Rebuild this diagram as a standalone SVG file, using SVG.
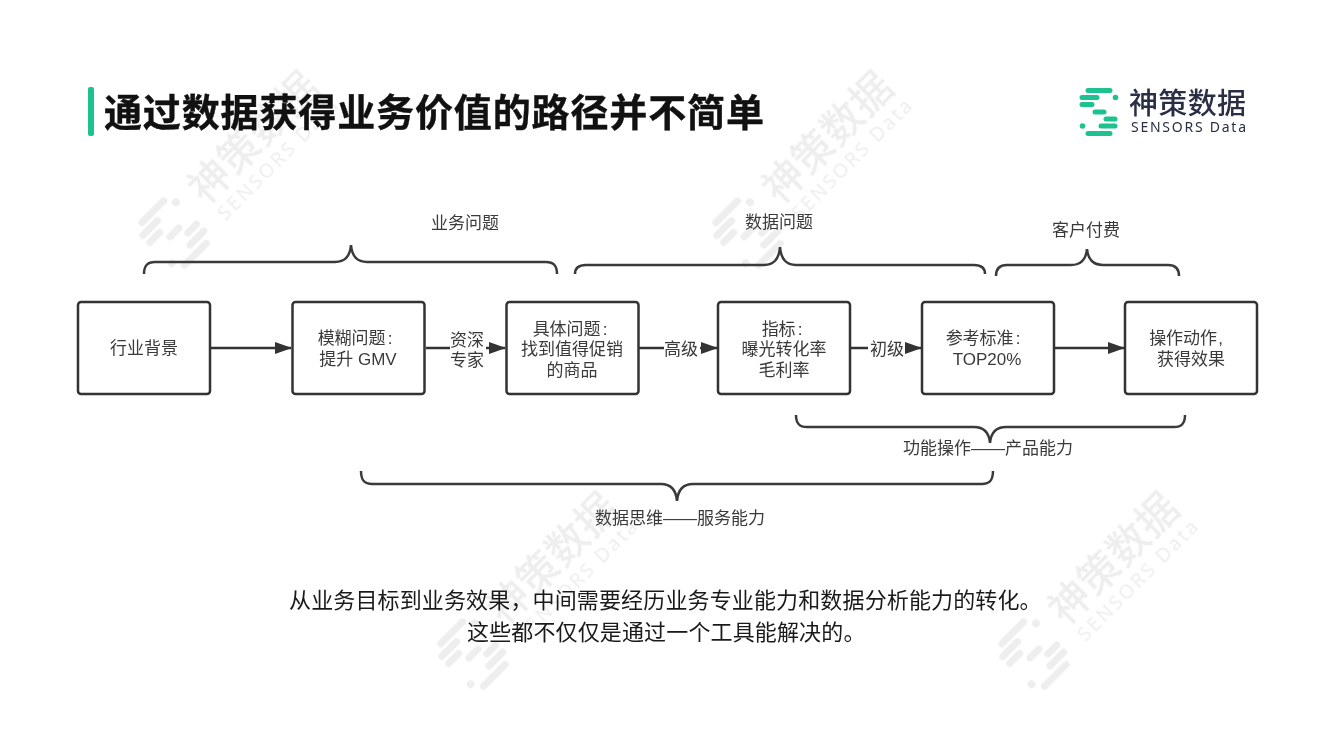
<svg xmlns="http://www.w3.org/2000/svg" xmlns:xlink="http://www.w3.org/1999/xlink" width="1333" height="750" viewBox="0 0 1333 750">
<style>
text{font-family:"Liberation Sans","Noto Sans CJK SC",sans-serif}
.t{font-size:17px;fill:#3a3a3a;text-anchor:middle}
.box{fill:#fff;stroke:#333;stroke-width:2.5}
.ln{fill:none;stroke:#333;stroke-width:2.5}
.br{fill:none;stroke:#3a3a3a;stroke-width:2.5}
.bar{stroke-linecap:round;stroke-width:5;fill:none}
.body{font-size:22px;fill:#1a1a1a;letter-spacing:.14px}
</style>
<defs>
<marker id="ah" markerUnits="userSpaceOnUse" markerWidth="18" markerHeight="14" refX="16" refY="6" orient="auto"><path d="M0,0L17,6L0,12Z" fill="#333"/></marker>
<g id="mark">
<g class="bar" stroke="currentColor">
<path d="M1088 90.500H1110M1082 97.500H1097M1082 104.500H1092M1095 112H1104M1106 119H1115M1101 126H1115M1088 133.500H1110"/>
</g>
<g fill="currentColor" stroke="none"><circle cx="1115.500" cy="97.500" r="2.800"/><circle cx="1082.500" cy="126" r="2.800"/></g>
<text x="1129" y="114" font-size="29" font-weight="500" fill="currentColor" textLength="117" style='font-family:"Noto Sans CJK SC",sans-serif'>神策数据</text>
<text x="1131" y="132" font-size="14" fill="currentColor" textLength="115" style='font-family:"Noto Sans","Liberation Sans",sans-serif'>SENSORS Data</text>
</g>
</defs>
<rect width="1333" height="750" fill="#fff"/>
<g id="watermarks" opacity="0.085" color="#333">
<use xlink:href="#mark" transform="translate(172 233) rotate(-45) scale(1.400) translate(-1098 -111)"/>
<use xlink:href="#mark" transform="translate(746 233) rotate(-45) scale(1.400) translate(-1098 -111)"/>
<use xlink:href="#mark" transform="translate(471 654) rotate(-45) scale(1.400) translate(-1098 -111)"/>
<use xlink:href="#mark" transform="translate(1032 654) rotate(-45) scale(1.400) translate(-1098 -111)"/>
</g>
<g id="title">
<rect x="88" y="87" width="6" height="49" rx="2" fill="#1cc28f"/>
<text x="104" y="126" font-size="38" font-weight="700" fill="#111" stroke="#111" stroke-width=".4" textLength="660" style='font-family:"Noto Sans CJK SC",sans-serif'>通过数据获得业务价值的路径并不简单</text>
</g>
<g id="logo">
<g class="bar" stroke="#1cc28f"><path d="M1088 90.500H1110M1082 97.500H1097M1082 104.500H1092M1095 112H1104M1106 119H1115M1101 126H1115M1088 133.500H1110"/></g>
<g fill="#1cc28f"><circle cx="1115.500" cy="97.500" r="2.800"/><circle cx="1082.500" cy="126" r="2.800"/></g>
<text x="1129" y="114" font-size="29" font-weight="500" fill="#2b2f45" textLength="117" style='font-family:"Noto Sans CJK SC",sans-serif'>神策数据</text>
<text x="1131" y="132" font-size="14" fill="#2b2f45" textLength="115" style='font-family:"Noto Sans","Liberation Sans",sans-serif'>SENSORS Data</text>
</g>
<g id="connectors">
<path class="ln" d="M211 348H291" marker-end="url(#ah)"/>
<path class="ln" d="M426 348H450"/>
<path class="ln" d="M486 348H505" marker-end="url(#ah)"/>
<path class="ln" d="M639 348H664"/>
<path class="ln" d="M700 348H717" marker-end="url(#ah)"/>
<path class="ln" d="M851 348H868"/>
<path class="ln" d="M905 348H921" marker-end="url(#ah)"/>
<path class="ln" d="M1055 348H1124" marker-end="url(#ah)"/>
<g id="braces">
<path class="br" d="M144 274C144 266 147 262 155 262H335C344 262 350 257 351 245C352 257 358 262 367 262H546C554 262 557 266 557 274"/>
<path class="br" d="M575 274C575 269 578 265 586 265H764C773 265 779 260 780 247C781 260 787 265 796 265H974C982 265 985 269 985 274"/>
<path class="br" d="M996 276C996 269 999 265 1007 265H1071C1080 265 1086 260 1087 249C1088 260 1094 265 1103 265H1168C1176 265 1179 269 1179 276"/>
<path class="br" d="M796 415C796 423 799 427 807 427H974C983 427 989 432 990 443C991 432 997 427 1006 427H1174C1182 427 1185 423 1185 415"/>
<path class="br" d="M361 471C361 480 364 484 372 484H661C670 484 676 489 677 501C678 489 684 484 693 484H982C990 484 993 480 993 471"/>
</g>
</g>
<g id="n1"><rect class="box" x="78" y="302" width="132" height="92" rx="3"/><text class="t" x="144" y="354">行业背景</text></g>
<g id="n2"><rect class="box" x="292.500" y="302" width="132" height="92" rx="3"/><text class="t" x="355" y="344">模糊问题<tspan dx="2">:</tspan></text><text class="t" x="358" y="365">提升 GMV</text></g>
<g id="n3"><rect class="box" x="506.500" y="302" width="132" height="92" rx="3"/><text class="t" x="570" y="335">具体问题<tspan dx="2">:</tspan></text><text class="t" x="572" y="355">找到值得促销</text><text class="t" x="572" y="376">的商品</text></g>
<g id="n4"><rect class="box" x="718" y="302" width="132" height="92" rx="3"/><text class="t" x="782" y="335">指标<tspan dx="2">:</tspan></text><text class="t" x="784" y="355">曝光转化率</text><text class="t" x="784" y="376">毛利率</text></g>
<g id="n5"><rect class="box" x="922" y="302" width="132" height="92" rx="3"/><text class="t" x="983" y="344">参考标准<tspan dx="2">:</tspan></text><text class="t" x="987" y="365">TOP20%</text></g>
<g id="n6"><rect class="box" x="1125" y="302" width="132" height="92" rx="3"/><text class="t" x="1186" y="344">操作动作<tspan dx="1">,</tspan></text><text class="t" x="1191" y="365">获得效果</text></g>
<g id="labels">
<text class="t" x="465" y="229">业务问题</text>
<text class="t" x="779" y="228">数据问题</text>
<text class="t" x="1086" y="236">客户付费</text>
<text class="t" x="467" y="346">资深</text>
<text class="t" x="467" y="366">专家</text>
<text class="t" x="681" y="355">高级</text>
<text class="t" x="887" y="355">初级</text>
<text class="t" x="988" y="454">功能操作——产品能力</text>
<text class="t" x="680" y="524">数据思维——服务能力</text>
</g>
<g id="caption">
<text class="body" x="289" y="608">从业务目标到业务效果，中间需要经历业务专业能力和数据分析能力的转化。</text>
<text class="body" x="467" y="640">这些都不仅仅是通过一个工具能解决的。</text>
</g>
</svg>
